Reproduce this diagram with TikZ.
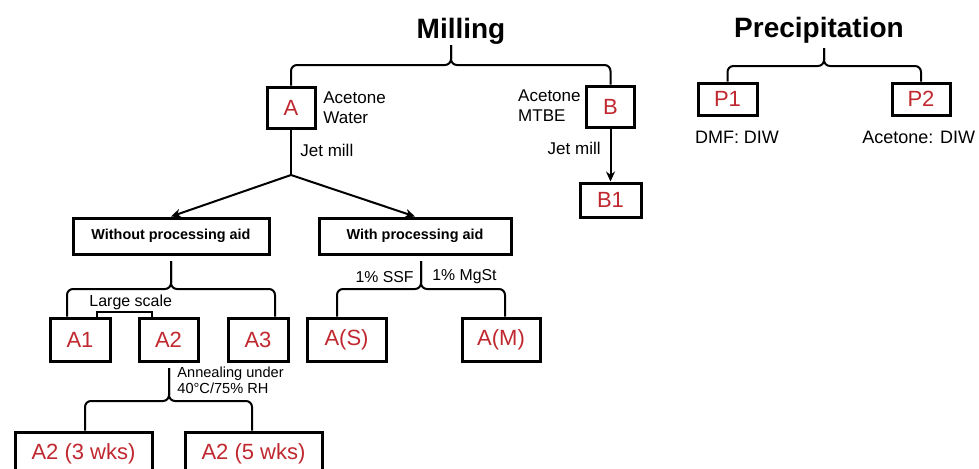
\documentclass[tikz,border=0pt]{standalone}
\usepackage{fontspec}
\setmainfont{Liberation Sans}
\usetikzlibrary{arrows.meta}
\definecolor{labred}{RGB}{192,40,48}

\begin{document}
\begin{tikzpicture}[x=0.5pt,y=-0.5pt,
    box/.style={draw,line width=1.5pt,text=labred,inner sep=0pt,minimum height=21.5pt,font=\fontsize{11}{13}\selectfont},
    aidbox/.style={draw,line width=1.5pt,inner sep=0pt,minimum height=18pt,font=\bfseries\fontsize{7.2}{8}\selectfont},
    note/.style={inner sep=0pt,align=left,font=\fontsize{8.5}{10}\selectfont},
    small/.style={inner sep=0pt,align=left,font=\fontsize{7.9}{9}\selectfont},
    bracket/.style={line width=1pt,rounded corners=3pt},
    link/.style={line width=1pt,-{Stealth[length=5pt,width=4.5pt]}}]
\useasboundingbox (0,0) rectangle (979,468);
\fill[white] (0,0) rectangle (979,468);

% titles
\node[font=\bfseries\fontsize{14}{16}\selectfont,anchor=base] (mill) at (461,38) {Milling};
\node[font=\bfseries\fontsize{14}{16}\selectfont,anchor=base] (prec) at (819,37) {Precipitation};

% milling
\node[box,minimum width=24pt,minimum height=20.5pt] (A) at (291,107.5) {A};
\node[box,minimum width=24pt,minimum height=20.5pt] (B) at (610.5,106.5) {B};
\node[box,minimum width=30.5pt,minimum height=17pt] (B1) at (610.5,200) {B1};
\node[note,anchor=west] (aw) at (323,108) {Acetone\\Water};
\node[note,anchor=east] (am) at (581,106) {Acetone\\MTBE};
\node[note,anchor=west] (jA) at (300,150) {Jet mill};
\node[note,anchor=east] (jB) at (601,148) {Jet mill};

\coordinate (mtip) at (451,45);
\coordinate (mbar) at (451,65);
\draw[bracket] (A.north) |- (mbar) -- (mtip);
\draw[bracket] (B.north) |- (mbar) -- (mtip);
\draw[link] (B.south) -- (B1.north);

% processing aid
\node[aidbox,minimum width=98pt] (wo) at (171,236) {Without processing aid};
\node[aidbox,minimum width=96pt] (wi) at (415,236) {With processing aid};
\coordinate (fork) at (291,175);
\draw[line width=1pt] (A.south) -- (fork);
\draw[link] (fork) -- (wo.north);
\draw[link] (fork) -- (wi.north);

\node[box,minimum width=30pt] (A1) at (80,339.5) {A1};
\node[box,minimum width=29.5pt] (A2) at (168.5,339.5) {A2};
\node[box,minimum width=30pt] (A3) at (258,339.5) {A3};
\node[box,minimum width=39.5pt] (AS) at (346.5,339.5) {A(S)};
\node[box,minimum width=39pt] (AM) at (501,339.5) {A(M)};

\coordinate (wtip) at (171,261);
\coordinate (wbar) at (171,289);
\draw[bracket] ([xshift=-6.5pt]A1.north) |- (wbar) -- (wtip);
\draw[bracket] ([xshift=8.5pt]A3.north) |- (wbar) -- (wtip);
\draw[line width=1pt] ([xshift=8.5pt]A1.north) -- ++(0,-5) -| ([xshift=-8.25pt]A2.north);
\node[small,anchor=west,font=\fontsize{8}{9}\selectfont] (ls) at (89,302) {Large scale};

\coordinate (itip) at (421,261);
\coordinate (ibar) at (421,289);
\draw[bracket] ([xshift=-4.75pt]AS.north) |- (ibar) -- (itip);
\draw[bracket] ([xshift=2pt]AM.north) |- (ibar) -- (itip);
\node[small,anchor=east] (ssf) at (414,277) {1\% SSF};
\node[small,anchor=west] (mgst) at (432,277) {1\% MgSt};

% annealing
\node[box,minimum width=68.5pt] (A23) at (83.5,453.5) {A2 (3 wks)};
\node[box,minimum width=68.5pt] (A25) at (253.5,453.5) {A2 (5 wks)};
\coordinate (atip) at (169,368);
\coordinate (abar) at (169,401);
\draw[bracket] ([xshift=0.75pt]A23.north) |- (abar) -- (atip);
\draw[bracket] ([xshift=-0.75pt]A25.north) |- (abar) -- (atip);
\node[small,anchor=west,font=\fontsize{7.3}{7.8}\selectfont] (ann) at (177,380) {Annealing under\\40°C/75\% RH};

% precipitation
\node[box,minimum width=29.5pt,minimum height=16pt] (P1) at (727.5,99) {P1};
\node[box,minimum width=29pt,minimum height=16pt] (P2) at (921,99) {P2};
\coordinate (ptip) at (824,48);
\coordinate (pbar) at (824,66);
\draw[bracket] (P1.north) |- (pbar) -- (ptip);
\draw[bracket] (P2.north) |- (pbar) -- (ptip);
\node[note,font=\fontsize{9}{10}\selectfont] (dmf) at (737,137) {DMF: DIW};
\node[note,anchor=west,font=\fontsize{9}{10}\selectfont] (acd) at (862,137) {Acetone: DIW};
\end{tikzpicture}
\end{document}
